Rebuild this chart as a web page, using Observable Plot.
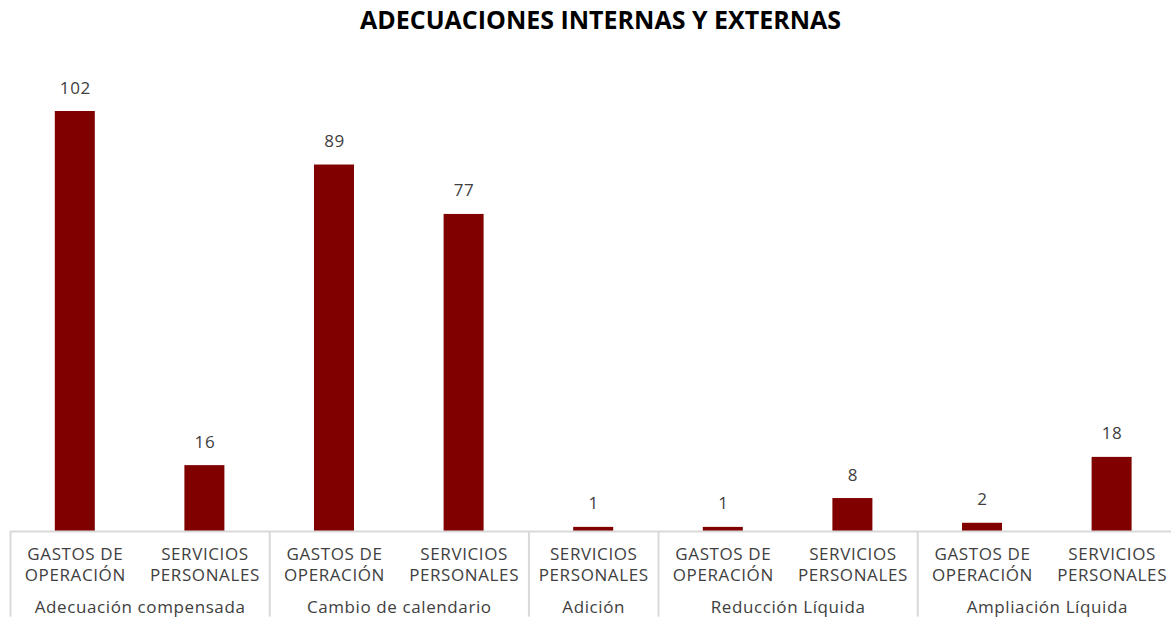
<!DOCTYPE html>
<html>
<head>
<meta charset="utf-8">
<script src="https://cdn.jsdelivr.net/npm/d3@7"></script>
<script src="https://cdn.jsdelivr.net/npm/@observablehq/plot@0.6"></script>
<style>
  html, body { margin: 0; padding: 0; background: #fff; }
  #title { height: 40px; line-height: 38px; text-align: center; padding-left: 30px; font-family: "Open Sans", sans-serif; font-weight: 700; font-size: 25px; color: #000; letter-spacing: 0px; }
</style>
</head>
<body>
<div id="title">ADECUACIONES INTERNAS Y EXTERNAS</div>
<div id="chart"></div>
<script>
const groups = ["Adecuación compensada", "Cambio de calendario", "Adición", "Reducción Líquida", "Ampliación Líquida"];
const categories = ["GASTOS DE\nOPERACIÓN", "SERVICIOS\nPERSONALES", "GASTOS DE\nOPERACIÓN", "SERVICIOS\nPERSONALES", "SERVICIOS\nPERSONALES", "GASTOS DE\nOPERACIÓN", "SERVICIOS\nPERSONALES", "GASTOS DE\nOPERACIÓN", "SERVICIOS\nPERSONALES"];
const groupOf = [0, 0, 1, 1, 2, 3, 3, 4, 4];
const values = [102, 16, 89, 77, 1, 1, 8, 2, 18];

const data = values.map((v, i) => ({i, cat: categories[i], group: groups[groupOf[i]], value: v}));
const groupInfo = groups.map((g, gi) => {
  const idx = groupOf.map((x, i) => x === gi ? i : -1).filter(i => i >= 0);
  return {group: g, start: idx[0], end: idx[idx.length - 1] + 1};
});

const font = "'Open Sans', sans-serif";
const textColor = "#404040";
const lineColor = "#d9d9d9";

const chart = Plot.plot({
  width: 1171,
  height: 577,
  marginLeft: 10,
  marginRight: 0,
  marginTop: 71,
  marginBottom: 86,
  style: {fontFamily: font, overflow: "visible", letterSpacing: "0.6px"},
  x: {type: "linear", domain: [0, values.length], range: [10, 10 + 9 * 129.6], axis: null},
  y: {domain: [0, 102], axis: null},
  marks: [
    Plot.rectY(data, {x1: d => d.i, x2: d => d.i + 1, y: "value", fill: "#800000", insetLeft: 44.8, insetRight: 44.8}),
    Plot.ruleY([0], {x1: 0, x2: values.length, stroke: lineColor, strokeWidth: 2}),
    Plot.ruleX(groupInfo, {x: "start", y1: 0, y2: -20.8, stroke: lineColor, strokeWidth: 2, clip: false}),
    Plot.text(data, {x: d => d.i + 0.5, y: "value", text: d => String(d.value), dy: -18, lineAnchor: "bottom", fontSize: 17, fill: textColor}),
    Plot.text(data, {x: d => d.i + 0.5, y: 0, text: "cat", dy: 14, lineAnchor: "top", fontSize: 17, lineHeight: 1.22, fill: textColor}),
    Plot.text(groupInfo, {x: d => (d.start + d.end) / 2, y: 0, text: "group", dy: 69, lineAnchor: "top", fontSize: 17, fill: textColor})
  ]
});
document.getElementById("chart").appendChild(chart);
</script>
</body>
</html>
